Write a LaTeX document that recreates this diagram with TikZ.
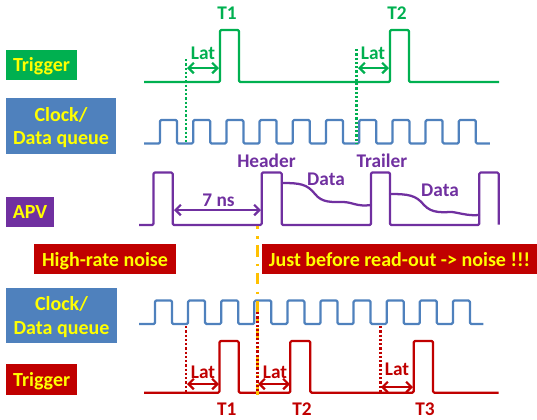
\documentclass[tikz,border=0pt]{standalone}
\usepackage{fontspec}
\setmainfont{Carlito}
\usetikzlibrary{arrows.meta}
\definecolor{tgreen}{HTML}{00B050}
\definecolor{tblue}{HTML}{4F81BD}
\definecolor{tpurple}{HTML}{7030A0}
\definecolor{tred}{HTML}{C00000}
\definecolor{tyellow}{HTML}{FFFF00}
\definecolor{torange}{HTML}{FFC000}
\tikzset{
 x=0.75pt,y=-0.75pt,
 lab/.style={font=\bfseries\fontsize{15pt}{17.5pt}\selectfont,text=tyellow,align=center,inner sep=0pt,text depth=0pt},
 wave/.style={line width=1.7pt,rounded corners=1pt,line join=round},
 curve/.style={line width=1.7pt,line cap=round},
 dots/.style={line width=1.9pt,dash pattern=on 1.7pt off 1.5pt},
 lat/.style={line width=1.6pt,{Straight Barb[length=4pt,width=8pt]}-{Straight Barb[length=4pt,width=8pt]}},
 txt/.style={font=\bfseries\fontsize{14.5pt}{17pt}\selectfont,inner sep=0pt},
}
\begin{document}
\begin{tikzpicture}
\useasboundingbox (0,0) rectangle (537,419);
% labels
\node[lab,fill=tgreen,minimum width=53pt,minimum height=22.5pt] (ltrig) at (41.5,64.5) {Trigger};
\node[lab,fill=tblue,minimum width=82.5pt,minimum height=42pt] (lclk) at (61,126) {Clock/\\Data queue};
\node[lab,fill=tpurple,minimum width=36pt,minimum height=22.5pt] (lapv) at (30,212) {APV};
\node[lab,fill=tred,minimum width=106pt,minimum height=22.5pt] (lnoise) at (105,259) {High-rate noise};
\node[lab,fill=tred,minimum width=206.5pt,minimum height=22.5pt] (ljust) at (399.5,259) {Just before read-out -> noise !!!};
\node[lab,fill=tblue,minimum width=82.5pt,minimum height=41.5pt] (lclk2) at (61.5,315.5) {Clock/\\Data queue};
\node[lab,fill=tred,minimum width=53pt,minimum height=23pt] (ltrig2) at (41.7,379.5) {Trigger};
% green trigger
\coordinate (g0) at (144,82);
\coordinate (g1) at (499,82);
\draw[wave,tgreen] (g0) -- (220,82) -- (220,30) -- (239,30) -- (239,82) -- (390,82) -- (390,30) -- (409,30) -- (409,82) -- (g1);
\node[txt,text=tgreen] (t1) at (227,13) {T1};
\node[txt,text=tgreen] (t2) at (397,13) {T2};
\node[txt,text=tgreen] (lat1) at (203,53) {Lat};
\node[txt,text=tgreen] (lat2) at (373,53) {Lat};
\coordinate (ga) at (187,68); \coordinate (gb) at (219,68);
\coordinate (gc) at (358,68); \coordinate (gd) at (389,68);
\draw[lat,tgreen] (ga) -- (gb);
\draw[lat,tgreen] (gc) -- (gd);
% blue clock
\draw[wave,tblue] (144,143.5) -- (160,143.5)
 \foreach \i in {0,...,8} { -- ++(0,-23.5) -- ++(17,0) -- ++(0,23.5) -- ++(16.2,0) }
 -- ++(0,-23.5) -- ++(17,0) -- ++(0,23.5) -- ++(14,0);
\coordinate (gd1) at (186,59); \coordinate (gd2) at (186,143);
\coordinate (gd3) at (356.5,49); \coordinate (gd4) at (356.5,143);
\draw[dots,tgreen] (gd1) -- (gd2);
\draw[dots,tgreen] (gd3) -- (gd4);
% purple apv
\draw[wave,tpurple] (139,225) -- (153.5,225) -- (153.5,172.5) -- (172.7,172.5) -- (172.7,225) -- (261.7,225) -- (261.7,172.5) -- (281.7,172.5) -- (281.7,225) -- (371,225) -- (371,172.5) -- (390,172.5) -- (390,225) -- (479.3,225) -- (479.3,172.5) -- (498.7,172.5) -- (498.7,224.5);
\draw[curve,tpurple] (282,183) .. controls (300,183) and (307,184) .. (315,194) .. controls (322,203) and (332,202) .. (343,202) .. controls (352,202) and (357,207) .. (371,205);
\draw[curve,tpurple] (390,194) .. controls (408,194) and (416,195) .. (424,205) .. controls (432,214) and (444,212) .. (452,212) .. controls (460,213) and (468,216) .. (479,215);
\node[txt,text=tpurple] (hd) at (266.5,161) {Header};
\node[txt,text=tpurple] (tr) at (382,161) {Trailer};
\node[txt,text=tpurple] (d1) at (326,179) {Data};
\node[txt,text=tpurple] (d2) at (440,190) {Data};
\node[txt,text=tpurple] (ns) at (218.5,200) {7 ns};
\coordinate (pa) at (174,210); \coordinate (pb) at (261,210);
\draw[lat,tpurple] (pa) -- (pb);
% blue clock 2
\draw[wave,tblue] (139,324) -- (155,324)
 \foreach \i in {0,...,8} { -- ++(0,-23.5) -- ++(17,0) -- ++(0,23.5) -- ++(16.1,0) }
 -- ++(0,-23.5) -- ++(17,0) -- ++(0,23.5) -- ++(13.5,0);
% red trigger
\draw[wave,tred] (144,392.7) -- (219.5,392.7) -- (219.5,341) -- (238.7,341) -- (238.7,392.7) -- (290.3,392.7) -- (290.3,341) -- (310.3,341) -- (310.3,392.7) -- (413.7,392.7) -- (413.7,341) -- (433,341) -- (433,392.7) -- (498.7,392.7);
\node[txt,text=tred] (r1) at (226.7,409) {T1};
\node[txt,text=tred] (r2) at (302,409.5) {T2};
\node[txt,text=tred] (r3) at (425,409.5) {T3};
\node[txt,text=tred] (rl1) at (203,372) {Lat};
\node[txt,text=tred] (rl2) at (275,372) {Lat};
\node[txt,text=tred] (rl3) at (397,369) {Lat};
\draw[lat,tred] (187,384) -- (219,384);
\draw[lat,tred] (258,384) -- (290,384);
\draw[lat,tred] (381,387) -- (413,387);
% orange
\draw[line width=2.2pt,torange,dash pattern=on 8.5pt off 5.5pt on 1.8pt off 5pt,dash phase=6.4pt] (257.5,226) -- (257.5,396);
\draw[dots,tred] (186,326) -- (186,392);
\draw[dots,tred] (257.3,312) -- (257.3,392);
\draw[dots,tred] (380.3,326) -- (380.3,392);
\end{tikzpicture}
\end{document}
